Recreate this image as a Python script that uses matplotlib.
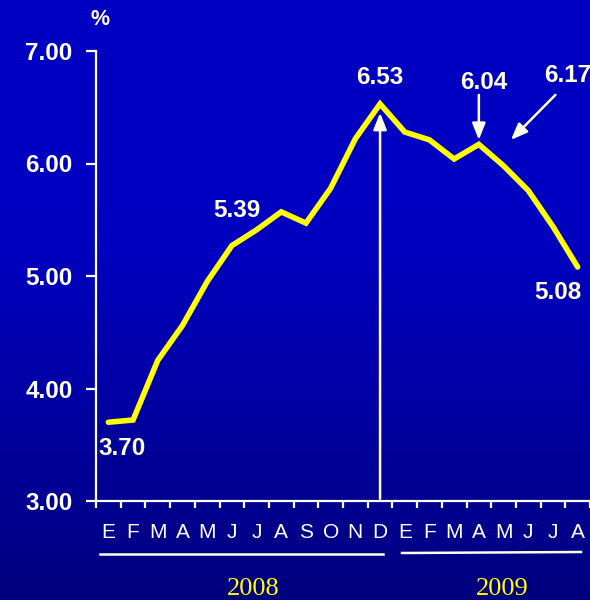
import numpy as np
import matplotlib
matplotlib.use("Agg")
import matplotlib.pyplot as plt
from matplotlib.colors import LinearSegmentedColormap

# data
months = ["E", "F", "M", "A", "M", "J", "J", "A", "S", "O", "N", "D",
          "E", "F", "M", "A", "M", "J", "J", "A"]
values = [3.70, 3.72, 4.25, 4.56, 4.95, 5.27, 5.41, 5.57, 5.47, 5.78, 6.22, 6.53,
          6.28, 6.21, 6.04, 6.17, 5.98, 5.76, 5.44, 5.08]
years = ["2008", "2009"]
yticks = [3.0, 4.0, 5.0, 6.0, 7.0]
# value labels: text, x, y
labels = [("3.70", 0.55, 3.47), ("5.39", 5.2, 5.58), ("6.53", 11.0, 6.76),
          ("6.04", 15.2, 6.72), ("6.17", 18.6, 6.78), ("5.08", 18.2, 4.85)]

plt.rcParams["font.family"] = ["Liberation Sans", "DejaVu Sans"]
cream = "#FFFFE6"

fig = plt.figure(figsize=(5.9, 6.0), dpi=100)

# background gradient
bg = fig.add_axes([0, 0, 1, 1], zorder=-10)
cmap = LinearSegmentedColormap.from_list(
    "bg", [(0.0, "#00007E"), (0.55, "#0000BC"), (0.65, "#0000C2"), (1.0, "#0000C2")])
grad = np.linspace(0, 1, 256).reshape(-1, 1)
bg.imshow(grad, aspect="auto", cmap=cmap, origin="lower", extent=[0, 1, 0, 1])
bg.axis("off")

ax = fig.add_axes([96 / 590, 1 - 501 / 600, 494 / 590, 450 / 600])
ax.patch.set_alpha(0)
x = np.arange(len(values))
ax.plot(x, values, color="#FFFF00", lw=4.0, solid_capstyle="round",
        solid_joinstyle="miter", zorder=3, clip_on=False)

ax.set_xlim(-0.5, len(values) - 0.5)
ax.set_ylim(3, 7)

for s in ["top", "right"]:
    ax.spines[s].set_visible(False)
for s in ["left", "bottom"]:
    ax.spines[s].set_color("white")
    ax.spines[s].set_linewidth(1.6)

ax.set_yticks(yticks)
ax.set_yticklabels([f"{v:.2f}" for v in yticks], fontsize=17.5, fontweight="bold",
                   color="white")
ax.tick_params(axis="y", length=7, width=1.6, color="white", pad=10)

ax.set_xticks(x)
ax.set_xticklabels(months, fontsize=15, color="white")
ax.tick_params(axis="x", length=0, pad=16)
ax.set_xticks(np.arange(-0.5, len(values)), minor=True)
ax.tick_params(axis="x", which="minor", length=5, width=1.6, color="white",
               direction="out")

# value labels
for t, lx, ly in labels:
    ax.text(lx, ly, t, fontsize=17.5, fontweight="bold", color=cream,
            ha="center", va="center", zorder=4)

# arrows
akw = dict(arrowstyle="-|>,head_length=1.0,head_width=0.4", color=cream, lw=1.8,
           shrinkA=0, shrinkB=0)
ax.annotate("", xy=(11, 6.45), xytext=(11, 3.02), arrowprops=akw, zorder=2)
ax.annotate("", xy=(15, 6.21), xytext=(15, 6.61), arrowprops=akw)
ax.annotate("", xy=(16.3, 6.21), xytext=(18.1, 6.61), arrowprops=akw,
            annotation_clip=False)

ax.text(-0.35, 7.28, "%", fontsize=15.5, fontweight="bold", color=cream,
        ha="center", va="center")

# year underlines and labels
fig.add_artist(plt.Line2D([100 / 590, 383 / 590], [1 - 554 / 600, 1 - 554 / 600],
                          color=cream, lw=1.8))
fig.add_artist(plt.Line2D([402 / 590, 581 / 590], [1 - 553 / 600, 1 - 552 / 600],
                          color=cream, lw=1.8))
fig.text(253 / 590, 1 - 589 / 600, years[0], fontsize=19, color="#FFFF00",
         family="Liberation Serif", ha="center", va="center")
fig.text(502 / 590, 1 - 589 / 600, years[1], fontsize=19, color="#FFFF00",
         family="Liberation Serif", ha="center", va="center")

fig.savefig("out.png", dpi=100)
